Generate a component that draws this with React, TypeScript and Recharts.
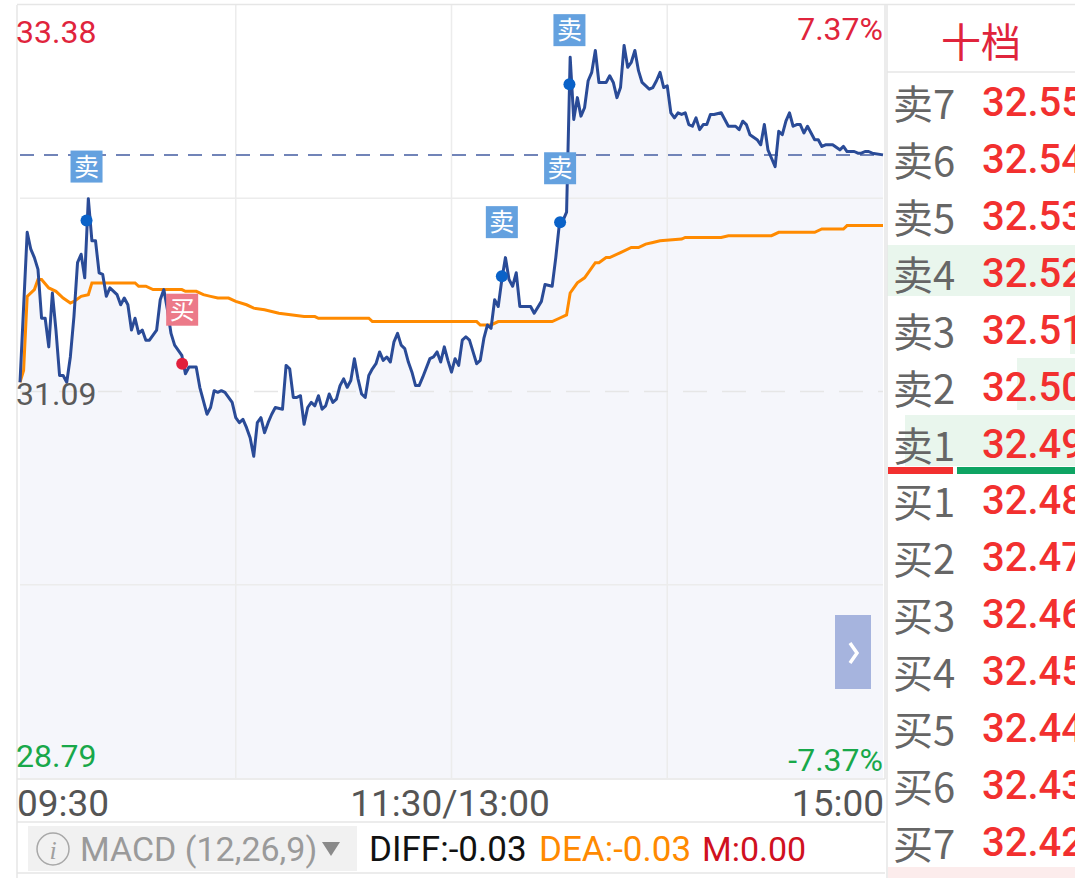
import React from 'react';
import { ComposedChart, Line, Area, XAxis, YAxis, ReferenceLine, ReferenceDot } from 'recharts';

// minute index from 09:30 (0..240, lunch break removed)
const priceMinutes = [
  0, 2, 3, 4, 5, 6, 7, 8, 9, 10, 11, 12, 13, 14, 15, 16, 17, 18, 19, 20,
  21, 22, 23, 24, 25, 27, 28, 29, 30, 31, 32, 33, 34, 35, 36, 37, 38, 39, 40, 41,
  42, 43, 45, 46, 47, 49, 50, 52, 53, 54, 55, 56, 57, 59, 60, 61, 62, 63, 64, 65,
  66, 67, 68, 69, 70, 71, 73, 74, 75, 76, 77, 78, 79, 80, 81, 82, 83, 84, 85, 86,
  87, 88, 89, 90, 91, 92, 93, 94, 95, 96, 97, 98, 99, 100, 101, 102, 103, 104, 105, 106,
  107, 108, 109, 110, 111, 112, 114, 115, 116, 117, 118, 119, 120, 121, 122, 123, 124, 125, 126, 127,
  128, 129, 130, 131, 132, 133, 134, 135, 136, 137, 138, 139, 142, 143, 145, 146, 148, 149, 150, 151,
  152, 153, 154, 155, 156, 157, 158, 159, 160, 161, 163, 164, 165, 166, 167, 168, 169, 170, 171, 172,
  173, 175, 176, 177, 178, 179, 180, 181, 182, 183, 184, 185, 186, 187, 188, 189, 190, 191, 192, 193,
  195, 196, 197, 199, 200, 201, 202, 203, 205, 206, 207, 208, 209, 210, 211, 212, 213, 214, 215, 216,
  217, 218, 219, 220, 221, 222, 223, 224, 226, 228, 229, 230, 232, 233, 234, 235, 236, 237, 240,
];
const priceValues = [
  31.14, 32.03, 31.93, 31.88, 31.81, 31.52, 31.52, 31.35, 31.67, 31.45, 31.18, 31.18, 31.14, 31.29, 31.53, 31.85, 31.9, 31.76, 32.23, 31.98,
  31.98, 31.79, 31.78, 31.65, 31.7, 31.66, 31.6, 31.64, 31.6, 31.45, 31.52, 31.43, 31.45, 31.39, 31.39, 31.42, 31.45, 31.63, 31.69, 31.57,
  31.43, 31.36, 31.3, 31.19, 31.23, 31.23, 31.11, 30.95, 30.99, 31.09, 31.08, 31.09, 31.08, 31.02, 30.93, 30.9, 30.92, 30.87, 30.81, 30.7,
  30.9, 30.93, 30.84, 30.9, 30.95, 30.99, 30.98, 31.24, 31.22, 31.05, 31.05, 31.06, 30.89, 30.99, 31.02, 31.0, 31.06, 30.98, 31.0, 31.07,
  31.02, 31.04, 31.12, 31.16, 31.11, 31.15, 31.28, 31.16, 31.07, 31.05, 31.18, 31.22, 31.25, 31.32, 31.27, 31.29, 31.26, 31.38, 31.43, 31.36,
  31.34, 31.26, 31.2, 31.12, 31.12, 31.17, 31.28, 31.29, 31.32, 31.26, 31.35, 31.27, 31.2, 31.28, 31.24, 31.39, 31.41, 31.39, 31.32, 31.25,
  31.27, 31.4, 31.48, 31.46, 31.63, 31.59, 31.75, 31.88, 31.75, 31.71, 31.79, 31.59, 31.59, 31.55, 31.62, 31.72, 31.71, 31.88, 32.08, 32.1,
  32.15, 33.07, 32.7, 32.83, 32.72, 32.77, 32.93, 32.98, 33.11, 32.92, 32.92, 32.96, 32.92, 32.83, 32.89, 33.14, 33.01, 33.04, 33.11, 32.99,
  32.92, 32.88, 32.89, 32.93, 32.98, 32.89, 32.9, 32.74, 32.71, 32.74, 32.73, 32.74, 32.67, 32.66, 32.71, 32.64, 32.67, 32.67, 32.73, 32.73,
  32.74, 32.7, 32.66, 32.66, 32.64, 32.69, 32.67, 32.61, 32.58, 32.55, 32.67, 32.52, 32.47, 32.42, 32.63, 32.61, 32.69, 32.74, 32.66, 32.67,
  32.67, 32.62, 32.66, 32.62, 32.58, 32.58, 32.54, 32.55, 32.55, 32.52, 32.54, 32.51, 32.51, 32.5, 32.5, 32.51, 32.51, 32.5, 32.49,
];

const avgMinutes = [
  0, 1, 2, 4, 5, 6, 8, 10, 12, 14, 15, 17, 19, 20, 22, 32, 33, 35, 37, 45,
  46, 49, 51, 53, 55, 58, 60, 63, 65, 68, 72, 79, 82, 83, 97, 98, 127, 128, 131, 133,
  148, 150, 152, 153, 155, 157, 158, 160, 161, 163, 164, 167, 170, 172, 174, 176, 178, 184, 185, 195,
  197, 209, 211, 221, 223, 229, 230, 240,
];
const avgValues = [
  31.14, 31.21, 31.65, 31.69, 31.75, 31.75, 31.7, 31.68, 31.64, 31.61, 31.62, 31.65, 31.66, 31.73, 31.73, 31.73, 31.71, 31.71, 31.69, 31.69,
  31.68, 31.68, 31.66, 31.65, 31.64, 31.64, 31.62, 31.6, 31.58, 31.57, 31.55, 31.53, 31.53, 31.52, 31.52, 31.5, 31.5, 31.48, 31.48, 31.5,
  31.5, 31.52, 31.54, 31.67, 31.73, 31.76, 31.79, 31.85, 31.85, 31.88, 31.88, 31.91, 31.94, 31.94, 31.96, 31.97, 31.98, 31.99, 32.0, 32.0,
  32.01, 32.01, 32.03, 32.03, 32.05, 32.05, 32.07, 32.07,
];

const topPrice = 33.38;
const bottomPrice = 28.79;
const prevClose = 31.09;
const lastPrice = 32.49;
const topPct = '7.37%';
const bottomPct = '-7.37%';
const timeLabels = ['09:30', '11:30/13:00', '15:00'];
const gridMinutes = [60, 120, 180];

const markMinutes = [18.5, 45.1, 134, 150.2, 152.8];
const markPrices = [32.1, 31.25, 31.77, 32.09, 32.91];
const markKinds = ['卖', '买', '卖', '卖', '卖'];

const askLabels = ['卖7', '卖6', '卖5', '卖4', '卖3', '卖2', '卖1'];
const askPrices = ['32.55', '32.54', '32.53', '32.52', '32.51', '32.50', '32.49'];
const bidLabels = ['买1', '买2', '买3', '买4', '买5', '买6', '买7'];
const bidPrices = ['32.48', '32.47', '32.46', '32.45', '32.44', '32.43', '32.42'];

const macdName = 'MACD (12,26,9)';
const macdDiff = 'DIFF:-0.03';
const macdDea = 'DEA:-0.03';
const macdM = 'M:0.00';

const priceMap = new Map(priceMinutes.map((m, i) => [m, priceValues[i]]));
const avgMap = new Map(avgMinutes.map((m, i) => [m, avgValues[i]]));
const rows = Array.from(new Set([...priceMinutes, ...avgMinutes]))
  .sort((a, b) => a - b)
  .map((m) => ({ m, price: priceMap.get(m), avg: avgMap.get(m) }));

const span = topPrice - bottomPrice;
const quarterLines = [topPrice - span / 4, bottomPrice + span / 4];

const NUM = 'Roboto, sans-serif';
const CJK = '"Noto Sans CJK SC", sans-serif';

const Marker = (props: any) => {
  const { cx, cy, kind } = props;
  const sell = kind === '卖';
  return (
    <g>
      <rect x={cx - 16} y={cy - 70} width={32} height={32} fill={sell ? '#64a1df' : '#ec7a89'} />
      <text x={cx} y={cy - 45} textAnchor="middle" fill="#fff" fontSize={25} fontFamily={CJK}>
        {kind}
      </text>
      <circle cx={cx} cy={cy} r={6} fill={sell ? '#0a62c8' : '#e11f3c'} />
    </g>
  );
};

const App: React.FC = () => {
  return (
    <div style={{ position: 'absolute', left: 0, top: 0, width: 1075, height: 878, background: '#fff', overflow: 'hidden' }}>
      <div style={{ position: 'absolute', left: 0, top: 0 }}>
        <ComposedChart width={887} height={779} data={rows} margin={{ top: 5, right: 4, bottom: 1, left: 20 }}>
          <XAxis type="number" dataKey="m" domain={[0, 240]} hide />
          <YAxis type="number" domain={[bottomPrice, topPrice]} hide allowDataOverflow />
          <Area
            type="linear"
            dataKey="price"
            stroke="none"
            fill="#dde2f2"
            fillOpacity={0.3}
            connectNulls
            isAnimationActive={false}
          />
          {gridMinutes.map((g) => (
            <ReferenceLine key={g} x={g} stroke="#ececec" strokeWidth={1.5} />
          ))}
          {quarterLines.map((q) => (
            <ReferenceLine key={q} y={q} stroke="#ececec" strokeWidth={1.5} />
          ))}
          <ReferenceLine y={(topPrice + bottomPrice) / 2} stroke="#e6e6e6" strokeWidth={1.5} strokeDasharray="24 15" />
          <ReferenceLine y={lastPrice} stroke="#7184b8" strokeWidth={2} strokeDasharray="14 10" />
          <Line
            type="linear"
            dataKey="avg"
            stroke="#ff8a00"
            strokeWidth={3}
            dot={false}
            connectNulls
            isAnimationActive={false}
          />
          <Line
            type="linear"
            dataKey="price"
            stroke="#2a4b97"
            strokeWidth={3}
            strokeLinejoin="round"
            dot={false}
            connectNulls
            isAnimationActive={false}
          />
          {markMinutes.map((m, i) => (
            <ReferenceDot
              key={i}
              x={m}
              y={markPrices[i]}
              r={6}
              ifOverflow="visible"
              shape={(p: any) => <Marker {...p} kind={markKinds[i]} />}
            />
          ))}
        </ComposedChart>
      </div>

      <svg width={1075} height={878} style={{ position: 'absolute', left: 0, top: 0, pointerEvents: 'none' }}>
        {/* frame */}
        <line x1={17} y1={4.5} x2={1075} y2={4.5} stroke="#e6e6e6" strokeWidth={1.5} />
        <line x1={17} y1={5} x2={17} y2={878} stroke="#e6e6e6" strokeWidth={1.5} />
        <line x1={885} y1={5} x2={885} y2={779} stroke="#e6e6e6" strokeWidth={1.5} />
        <line x1={17} y1={779} x2={885} y2={779} stroke="#e6e6e6" strokeWidth={1.5} />
        <line x1={17} y1={822} x2={885} y2={822} stroke="#e6e6e6" strokeWidth={1.5} />
        <line x1={17} y1={873} x2={885} y2={873} stroke="#e6e6e6" strokeWidth={1.5} />

        {/* axis labels */}
        <text x={16} y={43} fill="#e0243c" fontSize={32} fontFamily={NUM}>{topPrice.toFixed(2)}</text>
        <text x={16} y={405} fill="#5a5a5a" fontSize={32} fontFamily={NUM}>{prevClose.toFixed(2)}</text>
        <text x={16} y={767} fill="#18a84a" fontSize={32} fontFamily={NUM}>{bottomPrice.toFixed(2)}</text>
        <text x={883} y={40} textAnchor="end" fill="#e0243c" fontSize={32} fontFamily={NUM}>{topPct}</text>
        <text x={883} y={771} textAnchor="end" fill="#18a84a" fontSize={32} fontFamily={NUM}>{bottomPct}</text>
        <text x={17} y={816} fill="#555" fontSize={37} fontFamily={NUM}>{timeLabels[0]}</text>
        <text x={450} y={816} textAnchor="middle" fill="#555" fontSize={37} fontFamily={NUM}>{timeLabels[1]}</text>
        <text x={884} y={816} textAnchor="end" fill="#555" fontSize={37} fontFamily={NUM}>{timeLabels[2]}</text>

        {/* expand button */}
        <rect x={835} y={615} width={36} height={74} fill="#a6b4de" />
        <polyline points="850,643 857,653 850,663" fill="none" stroke="#fff" strokeWidth={3.5} />

        {/* MACD row */}
        <rect x={28} y={826} width={329} height={45} fill="#f1f1f1" />
        <circle cx={53} cy={849} r={16} fill="none" stroke="#a8a8a8" strokeWidth={1.5} />
        <text x={53} y={859} textAnchor="middle" fill="#a0a0a0" fontSize={26} fontStyle="italic" fontFamily="serif">i</text>
        <text x={80} y={861} fill="#9a9a9a" fontSize={34} fontFamily={NUM}>{macdName}</text>
        <polygon points="322,842 340,842 331,856" fill="#8a8a8a" />
        <text x={369} y={861} fill="#111" fontSize={35} fontFamily={NUM}>{macdDiff}</text>
        <text x={539} y={861} fill="#ff8a00" fontSize={35} fontFamily={NUM}>{macdDea}</text>
        <text x={702} y={861} fill="#d0111f" fontSize={34} fontFamily={NUM}>{macdM}</text>

        {/* order book panel */}
        <rect x={887} y={245} width={188} height={51} fill="#e9f6ed" />
        <rect x={1070} y={296} width={5} height={58} fill="#e9f6ed" />
        <rect x={1017} y={358} width={58} height={52} fill="#e9f6ed" />
        <rect x={905} y={415} width={170} height={51} fill="#e9f6ed" />
        <rect x={888} y={867} width={187} height={11} fill="#fcecec" />
        <line x1={887} y1={5} x2={887} y2={878} stroke="#e6e6e6" strokeWidth={1.5} />
        <line x1={887} y1={72} x2={1075} y2={72} stroke="#e6e6e6" strokeWidth={1.5} />
        <text x={981} y={57} textAnchor="middle" fill="#e0243c" fontSize={40} fontFamily={CJK}>十档</text>
        {askLabels.map((l, i) => (
          <text key={l} x={893} y={119 + i * 57} fill="#666" fontSize={40} fontFamily={CJK}>{l}</text>
        ))}
        {askPrices.map((p, i) => (
          <text key={p} x={982} y={116 + i * 57} fill="#f2302f" fontSize={40} fontWeight={500} fontFamily={NUM}>{p}</text>
        ))}
        <rect x={888} y={467} width={65} height={7} fill="#f2302f" />
        <rect x={957} y={467} width={118} height={7} fill="#0ea463" />
        {bidLabels.map((l, i) => (
          <text key={l} x={893} y={517 + i * 57} fill="#666" fontSize={40} fontFamily={CJK}>{l}</text>
        ))}
        {bidPrices.map((p, i) => (
          <text key={p} x={982} y={514 + i * 57} fill="#f2302f" fontSize={40} fontWeight={500} fontFamily={NUM}>{p}</text>
        ))}
      </svg>
    </div>
  );
};

export default App;
